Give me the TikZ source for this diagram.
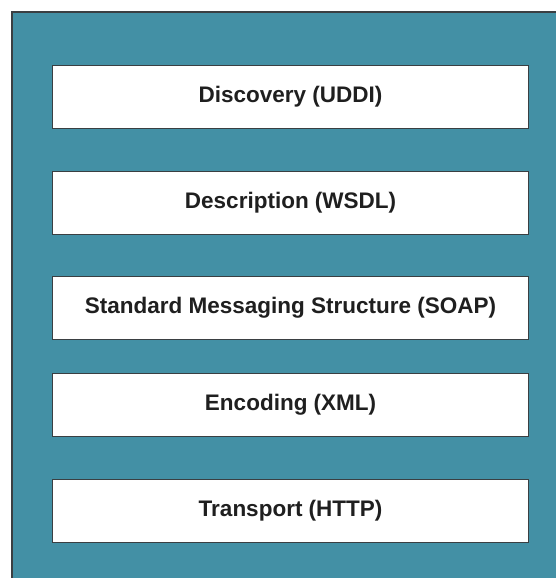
\documentclass[tikz,border=0pt]{standalone}
\usepackage{fontspec}
\setmainfont{Liberation Sans}
\definecolor{panel}{HTML}{4390A5}
\definecolor{edge}{HTML}{3A3F42}
\begin{document}
\begin{tikzpicture}[x=1pt,y=-1pt,
  layer/.style={draw=edge,line width=1.2pt,fill=white,minimum width=476pt,minimum height=63pt,
    anchor=north west,inner sep=0pt,font=\bfseries\fontsize{22.5}{26}\selectfont,text=black!88}]
\useasboundingbox (0,0) rectangle (556,578);
\fill[white] (0,0) rectangle (556,578);
\draw[edge,line width=1.2pt,fill=panel] (12,12) rectangle (560,582);
\node[layer] (uddi) at (52,65) {Discovery (UDDI)};
\node[layer] (wsdl) at (52,171) {Description (WSDL)};
\node[layer] (soap) at (52,276) {Standard Messaging Structure (SOAP)};
\node[layer] (xml) at (52,373) {Encoding (XML)};
\node[layer] (http) at (52,479) {Transport (HTTP)};
\end{tikzpicture}
\end{document}
